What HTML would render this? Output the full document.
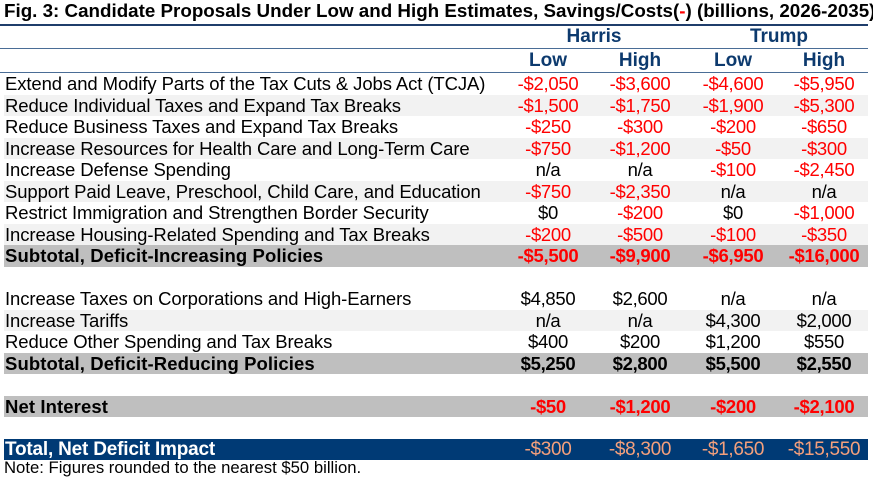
<!DOCTYPE html>
<html><head><meta charset="utf-8"><style>
body{margin:0;width:873px;height:480px;background:#fff;font-family:"Liberation Sans",Arial,sans-serif;overflow:hidden;position:relative}
.a{position:absolute;white-space:nowrap}
.row{position:absolute;left:4px;width:864px;height:21.5px}
.lbl{position:absolute;left:1px;font-size:18.5px;line-height:21.5px;color:#000;letter-spacing:-0.1px}
.v{position:absolute;width:100px;margin-left:-50px;text-align:center;font-size:18.5px;line-height:21.5px;letter-spacing:-0.3px}
.hd{color:#0d3a6e;font-weight:bold;font-size:19px}
.line{position:absolute;left:0;width:868px;height:1px;background:#4a6d96}
</style></head><body>
<div class="a" style="left:4px;top:0px;font-size:18.8px;font-weight:bold;letter-spacing:0px;">Fig. 3: Candidate Proposals Under Low and High Estimates, Savings/Costs(<span style="color:#ff0000">-</span>) (billions, 2026-2035)</div>
<div class="line" style="top:24px;height:2px;background:#1f3d6b"></div>
<div class="a hd" style="left:594px;top:26px;transform:translateX(-50%);line-height:22px">Harris</div>
<div class="a hd" style="left:779px;top:26px;transform:translateX(-50%);line-height:22px">Trump</div>
<div class="line" style="top:48px"></div>
<div class="a hd" style="left:548px;top:49px;transform:translateX(-50%);line-height:23px">Low</div>
<div class="a hd" style="left:640px;top:49px;transform:translateX(-50%);line-height:23px">High</div>
<div class="a hd" style="left:733px;top:49px;transform:translateX(-50%);line-height:23px">Low</div>
<div class="a hd" style="left:824px;top:49px;transform:translateX(-50%);line-height:23px">High</div>
<div class="line" style="top:72px"></div>
<div id="tbl"></div>
<div class="a" style="left:4px;top:458px;font-size:16.7px;line-height:20px">Note: Figures rounded to the nearest $50 billion.</div>
<script>
const rows=[
["Extend and Modify Parts of the Tax Cuts & Jobs Act (TCJA)",["-$2,050","-$3,600","-$4,600","-$5,950"],""],
["Reduce Individual Taxes and Expand Tax Breaks",["-$1,500","-$1,750","-$1,900","-$5,300"],"alt"],
["Reduce Business Taxes and Expand Tax Breaks",["-$250","-$300","-$200","-$650"],""],
["Increase Resources for Health Care and Long-Term Care",["-$750","-$1,200","-$50","-$300"],"alt"],
["Increase Defense Spending",["n/a","n/a","-$100","-$2,450"],""],
["Support Paid Leave, Preschool, Child Care, and Education",["-$750","-$2,350","n/a","n/a"],"alt"],
["Restrict Immigration and Strengthen Border Security",["$0","-$200","$0","-$1,000"],""],
["Increase Housing-Related Spending and Tax Breaks",["-$200","-$500","-$100","-$350"],"alt"],
["Subtotal, Deficit-Increasing Policies",["-$5,500","-$9,900","-$6,950","-$16,000"],"sub"],
null,
["Increase Taxes on Corporations and High-Earners",["$4,850","$2,600","n/a","n/a"],""],
["Increase Tariffs",["n/a","n/a","$4,300","$2,000"],"alt"],
["Reduce Other Spending and Tax Breaks",["$400","$200","$1,200","$550"],""],
["Subtotal, Deficit-Reducing Policies",["$5,250","$2,800","$5,500","$2,550"],"sub"],
null,
["Net Interest",["-$50","-$1,200","-$200","-$2,100"],"sub"],
null,
["Total, Net Deficit Impact",["-$300","-$8,300","-$1,650","-$15,550"],"tot"]
];
const centers=[548,640,733,824];
const tbl=document.getElementById('tbl');
rows.forEach((r,i)=>{
  if(!r)return;
  const d=document.createElement('div');
  d.className='row';
  
  
  d.style.top=(73+21.5*i)+'px';
  const t=r[2];
  if(t==='alt')d.style.background='#f2f2f2';
  if(t==='sub')d.style.background='#bfbfbf';
  if(t==='tot')d.style.background='#003a75';
  const l=document.createElement('div');
  l.className='lbl';
  
  
  l.textContent=r[0];
  if(t==='sub'||t==='tot'){l.style.fontWeight='bold';l.style.letterSpacing='0.1px';}
  if(t==='tot'){l.style.color='#fff';l.style.fontSize='19px';l.style.letterSpacing='-0.2px';}
  d.appendChild(l);
  r[1].forEach((v,j)=>{
    const c=document.createElement('div');
    c.className='v';
    
    
    c.style.left=(centers[j]-4)+'px';
    c.textContent=v;
    c.style.color=v[0]==='-'?'#ff0000':'#000';
    if(t==='sub')c.style.fontWeight='bold';
    if(t==='tot'){c.style.color='#f4a07c';c.style.fontSize='19px';}
    d.appendChild(c);
  });
  tbl.appendChild(d);
});
</script>
</body></html>
